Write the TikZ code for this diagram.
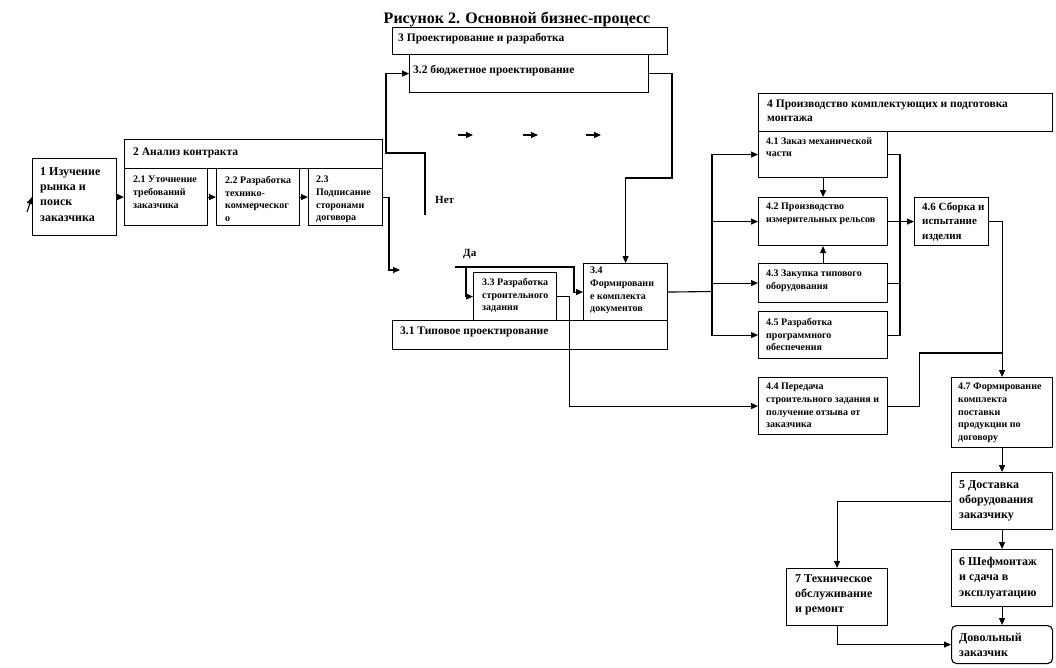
\documentclass[tikz,border=0pt]{standalone}
\usepackage{fontspec}
\setmainfont{Liberation Serif}
\usetikzlibrary{calc,arrows.meta}
\newcommand\ftitle{\fontsize{16}{18}\selectfont\bfseries}
\newcommand\fhead{\fontsize{11.5}{14}\selectfont\bfseries}
\newcommand\fbig{\fontsize{12}{15.4}\selectfont\bfseries}
\newcommand\fmid{\fontsize{11}{14.5}\selectfont\bfseries}
\newcommand\fsmall{\fontsize{10}{12.7}\selectfont\bfseries}
\tikzset{
    blk/.style={draw,line width=1.1pt,inner sep=0pt,anchor=north west},
    txt/.style={inner sep=0pt,anchor=north west,align=left},
    ln/.style={line width=1.1pt},
    arr/.style={line width=1.1pt,-{Triangle[length=7pt,width=6pt]}}
}

\begin{document}
\begin{tikzpicture}[x=1pt,y=-1pt]
    \useasboundingbox (0,0) rectangle (1056,667);
    \node[anchor=north,inner sep=0pt] (title) at (517,12) {\ftitle Рисунок 2. Основной бизнес-процесс};
    % 1 and 2
    \node[blk,minimum width=84,minimum height=77] (b1) at (32,158) {};
    \node[blk,minimum width=258,minimum height=29] (b2) at (124,139) {};
    \node[blk,minimum width=83,minimum height=57] (b21) at (124,168) {};
    \node[blk,minimum width=83,minimum height=57] (b22) at (216,168) {};
    \node[blk,minimum width=74,minimum height=57] (b23) at (308,168) {};
    % 3
    \node[blk,minimum width=275,minimum height=27] (b3) at (392,27) {};
    \node[blk,minimum width=239,minimum height=38] (b32) at (409,54) {};
    \node[blk,minimum width=83,minimum height=48] (b33) at (473,272) {};
    \node[blk,minimum width=84,minimum height=57] (b34) at (583,263) {};
    \node[blk,minimum width=275,minimum height=29] (b31) at (392,320) {};
    % 4
    \node[blk,minimum width=294,minimum height=38] (b4) at (758,93) {};
    \node[blk,minimum width=129,minimum height=46] (b41) at (758,131) {};
    \node[blk,minimum width=129,minimum height=48] (b42) at (758,197) {};
    \node[blk,minimum width=129,minimum height=39] (b43) at (758,263) {};
    \node[blk,minimum width=129,minimum height=47] (b45) at (758,311) {};
    \node[blk,minimum width=129,minimum height=57] (b44) at (758,377) {};
    \node[blk,minimum width=74,minimum height=48] (b46) at (914,197) {};
    \node[blk,minimum width=101,minimum height=70] (b47) at (951,377) {};
    % 5, 6, 7
    \node[blk,minimum width=101,minimum height=57] (b5) at (951,472) {};
    \node[blk,minimum width=101,minimum height=57] (b6) at (951,549) {};
    \node[blk,minimum width=101,minimum height=57] (b7) at (786,568) {};
    \node[blk,rounded corners=5pt,minimum width=101,minimum height=38] (bdz) at (951,625) {};

    % texts
    \node[txt,font=\fbig] (t1) at ($(b1.north west)+(8,9)$) {1 Изучение\\рынка и\\поиск\\заказчика};
    \node[txt,font=\fhead] (t2) at ($(b2.north west)+(9,9)$) {2 Анализ контракта};
    \node[txt,font=\fsmall] (t21) at ($(b21.north west)+(9,8)$) {2.1 Уточнение\\требований\\заказчика};
    \node[txt,font=\fsmall] (t22) at ($(b22.north west)+(9,8)$) {2.2 Разработка\\технико-\\коммерческог\\о};
    \node[txt,font=\fsmall] (t23) at ($(b23.north west)+(8,8)$) {2.3\\Подписание\\сторонами\\договора};
    \node[txt,font=\fhead] (t3) at ($(b3.north west)+(6,6)$) {3 Проектирование и разработка};
    \node[txt,font=\fhead] (t32) at ($(b32.north west)+(4,11)$) {3.2 бюджетное проектирование};
    \node[txt,font=\fhead] (t31) at ($(b31.north west)+(8,7)$) {3.1 Типовое проектирование};
    \node[txt,font=\fsmall] (t33) at ($(b33.north west)+(9,6)$) {3.3 Разработка\\строительного\\задания};
    \node[txt,font=\fsmall] (t34) at ($(b34.north west)+(7,4)$) {3.4\\Формировани\\е комплекта\\документов};
    \node[txt,font=\fhead] (t4) at ($(b4.north west)+(9,7)$) {4 Производство комплектующих и подготовка\\монтажа};
    \node[txt,font=\fsmall] (t41) at ($(b41.north west)+(8,6)$) {4.1 Заказ механической\\части};
    \node[txt,font=\fsmall] (t42) at ($(b42.north west)+(8,6)$) {4.2 Производство\\измерительных рельсов};
    \node[txt,font=\fsmall] (t43) at ($(b43.north west)+(8,7)$) {4.3 Закупка типового\\оборудования};
    \node[txt,font=\fsmall] (t45) at ($(b45.north west)+(8,7)$) {4.5 Разработка\\программного\\обеспечения};
    \node[txt,font=\fsmall] (t44) at ($(b44.north west)+(8,6)$) {4.4 Передача\\строительного задания и\\получение отзыва от\\заказчика};
    \node[txt,font=\fmid] (t46) at ($(b46.north west)+(8,5)$) {4.6 Сборка и\\испытание\\изделия};
    \node[txt,font=\fsmall] (t47) at ($(b47.north west)+(7,6)$) {4.7 Формирование\\комплекта\\поставки\\продукции по\\договору};
    \node[txt,font=\fbig] (t5) at ($(b5.north west)+(8,8)$) {5 Доставка\\оборудования\\заказчику};
    \node[txt,font=\fbig] (t6) at ($(b6.north west)+(8,8)$) {6 Шефмонтаж\\и сдача в\\эксплуатацию};
    \node[txt,font=\fbig] (t7) at ($(b7.north west)+(9,6)$) {7 Техническое\\обслуживание\\и ремонт};
    \node[txt,font=\fbig] (tdz) at ($(bdz.north west)+(8,8)$) {Довольный\\заказчик};

    % connectors
    \coordinate (in1) at (27,212);
    \draw[arr] (in1) -- (b1.west);
    \draw[arr] (b1.east) -- (b21.west);
    \draw[arr] (b21.east) -- (b22.west);
    \draw[arr] (b22.east) -- (b23.west);
    \coordinate (dec) at (400,270);
    \draw[arr] (b23.east) -| ($(dec)+(-11,0)$) -- (dec);
    % branches
    \coordinate (no) at (425,215);
    \draw[arr] (no) |- (386,153) |- (b32.west);
    \node[txt,font=\fmid] (tno) at (435,196) {Нет};
    \coordinate (yes) at (455,267);
    \draw[arr] (yes) -| ($(b34.west)+(-9,0)$) -- (b34.west);
    \draw[arr] (466,267) |- (b33.west);
    \node[txt,font=\fmid] (tyes) at (463,249) {Да};
    \draw[arr] (b32.east) -| (672,178) -| (b34.north);
    \draw[arr] (b33.east) -- ++(12,0) |- (b44.west);
    \foreach \x in {458,523,586}
        \draw[arr] (\x,135) -- ++(15,0);
    % 4
    \coordinate (busl) at (712,291.5);
    \draw[ln] (b34.east) -- (busl);
    \foreach \n in {b41,b42,b43,b45}
        \draw[arr] (busl) |- (\n.west);
    \draw[arr] (b41.south) -- (b42.north);
    \draw[arr] (b43.north) -- (b42.south);
    \coordinate (busr) at (900,221);
    \foreach \n in {b41,b43,b45}
        \draw[ln] (\n.east) -| (busr);
    \draw[arr] (b42.east) -- (b46.west);
    \draw[arr] (b46.east) -| (b47.north);
    \draw[ln] (b44.east) -- ++(31,0) |- ($(b47.north)+(0,-24)$);
    % 5, 6, 7
    \draw[arr] (b47.south) -- (b5.north);
    \draw[arr] (b5.south) -- (b6.north);
    \draw[arr] (b6.south) -- (bdz.north);
    \draw[arr] (b5.west) -| (b7.north);
    \draw[arr] (b7.south) |- (bdz.west);
\end{tikzpicture}
\end{document}
